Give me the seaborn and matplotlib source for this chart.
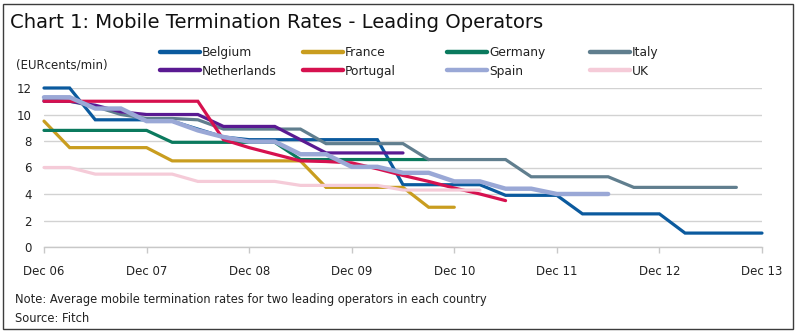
import matplotlib
matplotlib.use("Agg")
import matplotlib.pyplot as plt
from matplotlib.lines import Line2D
from matplotlib.patches import Rectangle
import numpy as np
import pandas as pd
import seaborn as sns

# ---- data (quarterly, starting Dec 06) ----
countries = ["Belgium", "France", "Germany", "Italy", "Netherlands", "Portugal", "Spain", "UK"]
belgium = [12.0, 12.0, 9.6, 9.6, 9.6, 9.5, 8.9, 8.3, 8.1, 8.1, 8.1, 8.1, 8.1, 8.1, 4.7, 4.7, 4.7, 4.7,
           3.9, 3.9, 3.9, 2.5, 2.5, 2.5, 2.5, 1.05, 1.05, 1.05, 1.05]
france = [9.5, 7.5, 7.5, 7.5, 7.5, 6.5, 6.5, 6.5, 6.5, 6.5, 6.5, 4.5, 4.5, 4.5, 4.5, 3.0, 3.0]
germany = [8.8, 8.8, 8.8, 8.8, 8.8, 7.9, 7.9, 7.9, 7.9, 7.9, 6.6, 6.6, 6.6, 6.6, 6.6, 6.6]
italy = [11.1, 11.0, 10.6, 10.0, 9.7, 9.7, 9.6, 8.9, 8.9, 8.9, 8.9, 7.8, 7.8, 7.8, 7.8, 6.6, 6.6, 6.6,
         6.6, 5.3, 5.3, 5.3, 5.3, 4.5, 4.5, 4.5, 4.5, 4.5]
netherlands = [11.0, 11.0, 10.7, 10.2, 10.0, 10.0, 10.0, 9.1, 9.1, 9.1, 8.1, 7.1, 7.1, 7.1, 7.1]
portugal = [11.0, 11.0, 11.0, 11.0, 11.0, 11.0, 11.0, 8.1, 7.5, 7.0, 6.5, 6.45, 6.35, 5.9, 5.4, 4.95,
            4.45, 4.0, 3.5]
spain = [11.3, 11.3, 10.45, 10.45, 9.5, 9.5, 8.8, 8.3, 7.95, 7.95, 7.0, 7.0, 6.05, 6.05, 5.6, 5.6,
         4.95, 4.95, 4.4, 4.4, 4.0, 4.0, 4.0]
uk = [6.0, 6.0, 5.5, 5.5, 5.5, 5.5, 4.95, 4.95, 4.95, 4.95, 4.65, 4.65, 4.65, 4.65, 4.3, 4.3, 4.3, 4.3]
series = [belgium, france, germany, italy, netherlands, portugal, spain, uk]

tick_labels = ["Dec 06", "Dec 07", "Dec 08", "Dec 09", "Dec 10", "Dec 11", "Dec 12", "Dec 13"]
y_ticks = [0, 2, 4, 6, 8, 10, 12]

colors = {
    "Belgium": "#0b5a9e",
    "France": "#c99d1f",
    "Germany": "#0b7a5e",
    "Italy": "#607e8e",
    "Netherlands": "#5a1a92",
    "Portugal": "#d6114f",
    "Spain": "#9aa8d6",
    "UK": "#f5cbd8",
}

rows = []
for c, vals in zip(countries, series):
    for q, v in enumerate(vals):
        rows.append({"country": c, "quarter": q, "rate": v})
df = pd.DataFrame(rows)

sns.set_theme(style="white")
plt.rcParams["font.family"] = ["DejaVu Sans"]

fig = plt.figure(figsize=(8.0, 3.32), dpi=100)
ax = fig.add_axes([44 / 800, 85 / 332, (762 - 44) / 800, (247 - 88) / 332])

for c in countries:
    sub = df[df["country"] == c]
    lw = 3.2 if c == "Spain" else 2.3
    sns.lineplot(data=sub, x="quarter", y="rate", color=colors[c], linewidth=lw,
                 ax=ax, legend=False, estimator=None)
for ln in ax.lines:
    ln.set_clip_on(False)
    ln.set_solid_joinstyle("miter")

ax.set_xlim(0, 28)
ax.set_ylim(0, 12)
ax.set_xticks(np.arange(0, 29, 4))
ax.set_xticklabels(tick_labels, fontsize=8.5, color="#222222")
ax.set_yticks(y_ticks)
ax.set_yticklabels([str(t) for t in y_ticks], fontsize=8.5, color="#222222")
ax.set_xlabel("")
ax.set_ylabel("")
ax.yaxis.grid(True, color="#d2d2d2", linewidth=1.0)
ax.set_axisbelow(True)
for s in ["top", "right", "left"]:
    ax.spines[s].set_visible(False)
ax.spines["bottom"].set_color("#c8c8c8")
ax.spines["bottom"].set_linewidth(1.0)
ax.tick_params(axis="x", direction="out", length=4, width=1, color="#c8c8c8", pad=9, bottom=True)
ax.tick_params(axis="y", length=0, pad=9)

# title and annotations
fig.text(10 / 800, 1 - 22 / 332, "Chart 1: Mobile Termination Rates - Leading Operators",
         fontsize=14.1, color="#111111", va="center", ha="left")
fig.text(16 / 800, 1 - 65 / 332, "(EURcents/min)", fontsize=8.5, color="#222222",
         va="center", ha="left")
fig.text(15 / 800, 1 - 300 / 332,
         "Note: Average mobile termination rates for two leading operators in each country",
         fontsize=8.3, color="#222222", va="center", ha="left")
fig.text(15 / 800, 1 - 318 / 332, "Source: Fitch", fontsize=8.3, color="#222222",
         va="center", ha="left")

# legend: four columns placed at fixed positions
col_x = [160, 303, 447, 590]
pairs = [("Belgium", "Netherlands"), ("France", "Portugal"), ("Germany", "Spain"), ("Italy", "UK")]
for x0, (a, b) in zip(col_x, pairs):
    handles = [Line2D([0], [0], color=colors[a], lw=3.2, solid_capstyle="round"),
               Line2D([0], [0], color=colors[b], lw=3.2, solid_capstyle="round")]
    fig.legend(handles, [a, b], loc="center left", bbox_to_anchor=(x0 / 800, 1 - 62 / 332),
               frameon=False, fontsize=8.8, handlelength=3.3, handletextpad=0.15,
               borderpad=0, borderaxespad=0, labelspacing=0.45, labelcolor="#222222")

# outer border
fig.patches.append(Rectangle((3 / 800, 3 / 332), 790 / 800, 325 / 332, transform=fig.transFigure,
                             fill=False, edgecolor="#3c3c3c", linewidth=1.0))

fig.savefig("out.png", dpi=100, facecolor="white")
